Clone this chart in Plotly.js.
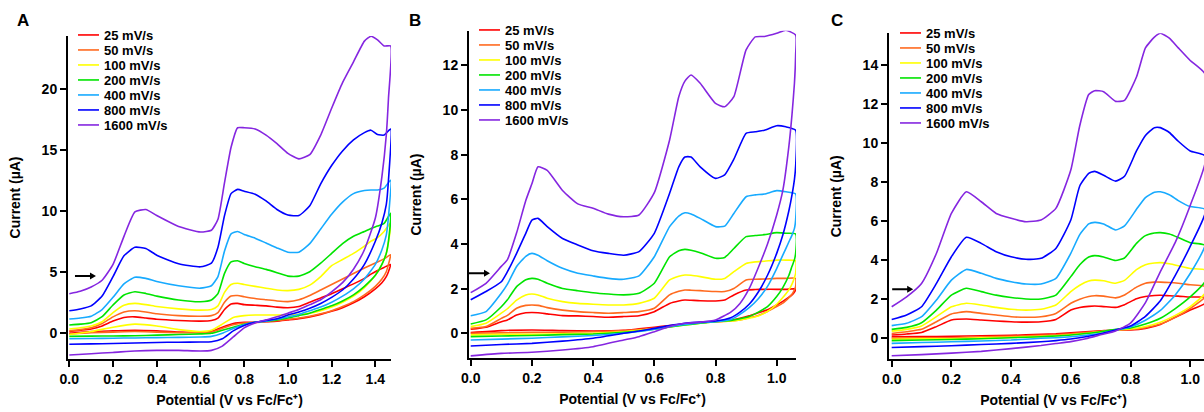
<!DOCTYPE html>
<html>
<head>
<meta charset="utf-8">
<script src="https://cdn.plot.ly/plotly-3.0.1.min.js"></script>
<style>html,body{margin:0;padding:0;background:#fff;overflow:hidden;width:1204px;height:412px;}</style>
</head>
<body>
<div id="chart" style="width:1218px;height:412px;"></div>
<script>
// ---------- series definitions ----------
const rates = ["25 mV/s", "50 mV/s", "100 mV/s", "200 mV/s", "400 mV/s", "800 mV/s", "1600 mV/s"];
const colors = ["#ff0000", "#ff6a1f", "#ffff00", "#00e400", "#17aaff", "#0000ff", "#8526e0"];

// ---------- Panel A ----------
const aUpX = [0,0.05,0.1,0.15,0.2,0.25,0.3,0.35,0.4,0.5,0.6,0.65,0.68,0.71,0.74,0.77,0.8,0.85,0.9,0.95,1.0,1.05,1.1,1.15,1.2,1.25,1.3,1.35,1.38,1.41,1.44,1.47];
const aUp = [
  [0.1,0.2,0.3,0.55,0.95,1.25,1.3,1.2,1.1,1.0,0.95,1.0,1.2,1.9,2.35,2.4,2.3,2.25,2.2,2.1,2.05,2.15,2.5,2.85,3.2,3.6,4.0,4.45,4.8,5.1,5.35,5.6],
  [0.15,0.25,0.4,0.75,1.3,1.7,1.8,1.7,1.55,1.4,1.35,1.4,1.65,2.5,3.0,3.05,2.95,2.8,2.7,2.6,2.55,2.7,3.05,3.5,3.95,4.4,4.85,5.3,5.55,5.8,6.05,6.4],
  [0.3,0.4,0.55,0.9,1.65,2.25,2.4,2.3,2.15,1.95,1.85,1.9,2.2,3.3,3.95,4.05,3.95,3.8,3.65,3.5,3.45,3.55,3.9,4.6,5.5,6.0,6.5,7.1,7.5,7.8,8.3,9.0],
  [0.63,0.7,0.82,1.31,2.27,3.09,3.36,3.22,3.0,2.68,2.54,2.68,3.2,4.86,5.8,5.9,5.68,5.41,5.19,4.92,4.64,4.64,5.0,5.7,6.5,7.3,7.9,8.3,8.55,8.74,8.96,9.78],
  [1.12,1.2,1.35,1.9,2.9,4.0,4.55,4.45,4.2,3.85,3.65,3.85,4.6,6.7,8.1,8.3,8.05,7.75,7.35,6.95,6.6,6.6,7.3,8.5,9.7,10.7,11.4,11.65,11.7,11.7,11.85,12.5],
  [1.8,1.95,2.2,3.0,4.6,6.3,7.0,6.9,6.35,5.65,5.4,5.7,7.0,9.6,11.4,11.75,11.6,11.35,10.8,10.1,9.65,9.6,10.4,12.2,13.7,14.9,15.8,16.4,16.6,16.25,16.2,16.7],
  [3.2,3.4,3.75,4.3,5.6,7.9,9.9,10.1,9.6,8.7,8.25,8.4,9.3,12.3,15.2,16.8,16.8,16.7,16.2,15.5,14.7,14.25,14.6,16.2,18.4,20.5,22.2,23.9,24.3,24.0,23.5,23.5]
];
const aDnX = [0,0.1,0.2,0.3,0.4,0.5,0.6,0.65,0.7,0.75,0.8,0.85,0.9,0.95,1.0,1.05,1.1,1.15,1.2,1.25,1.3,1.35,1.4,1.43,1.45,1.46];
const aDn = [
  [-0.05,0.1,0.15,0.2,0.15,0.05,0.05,0.1,0.45,0.75,0.85,0.85,0.9,0.95,1.05,1.15,1.3,1.5,1.75,2.05,2.45,2.95,3.6,4.1,4.6,5.0],
  [-0.1,0.0,0.05,0.1,0.05,0.0,0.0,0.05,0.35,0.65,0.8,0.85,0.9,1.0,1.1,1.2,1.35,1.55,1.8,2.15,2.55,3.1,3.8,4.4,5.0,5.6],
  [-0.15,0.1,0.45,0.7,0.55,0.25,0.1,0.2,0.7,1.25,1.4,1.45,1.45,1.45,1.45,1.5,1.6,1.8,2.1,2.5,3.0,3.7,4.7,5.6,6.5,7.4],
  [-0.3,-0.28,-0.27,-0.25,-0.2,-0.15,-0.1,-0.05,0.2,0.45,0.7,0.85,0.95,1.05,1.2,1.4,1.6,1.9,2.2,2.6,3.1,3.8,4.7,5.6,6.5,7.5],
  [-0.5,-0.48,-0.45,-0.43,-0.4,-0.38,-0.35,-0.3,-0.05,0.35,0.65,0.85,0.95,1.1,1.3,1.5,1.8,2.1,2.5,3.0,3.6,4.4,5.6,6.8,8.0,9.5],
  [-0.95,-0.92,-0.88,-0.85,-0.8,-0.78,-0.76,-0.74,-0.5,0.15,0.6,0.85,1.0,1.15,1.45,1.7,2.0,2.4,2.9,3.5,4.4,5.6,7.5,9.0,10.5,12.5],
  [-1.83,-1.72,-1.62,-1.5,-1.45,-1.45,-1.5,-1.45,-1.1,-0.35,0.4,0.8,1.05,1.3,1.6,1.9,2.3,2.7,3.35,4.1,5.2,6.8,9.4,12.8,16.2,19.2]
];

// ---------- Panel B ----------
const bUpX = [0,0.05,0.1,0.12,0.15,0.18,0.2,0.22,0.25,0.3,0.35,0.4,0.45,0.5,0.55,0.6,0.65,0.68,0.7,0.72,0.75,0.8,0.83,0.86,0.9,0.93,0.96,1.0,1.03,1.062];
const bUp = [
  [0.18,0.27,0.52,0.6,0.82,0.92,0.93,0.92,0.87,0.79,0.78,0.75,0.72,0.75,0.79,0.97,1.34,1.45,1.49,1.48,1.46,1.45,1.49,1.72,1.94,1.96,1.97,1.97,1.97,1.99],
  [0.22,0.3,0.67,0.8,1.12,1.25,1.27,1.25,1.15,1.04,0.97,0.93,0.9,0.93,0.97,1.12,1.72,1.88,1.94,1.93,1.91,1.87,1.87,2.01,2.39,2.42,2.43,2.46,2.46,2.46],
  [0.3,0.45,0.9,1.1,1.49,1.72,1.76,1.72,1.57,1.42,1.34,1.3,1.27,1.27,1.34,1.57,2.39,2.56,2.61,2.6,2.54,2.42,2.46,2.76,3.13,3.2,3.23,3.28,3.28,3.25],
  [0.42,0.6,1.19,1.5,2.09,2.4,2.46,2.42,2.24,2.01,1.91,1.82,1.76,1.72,1.79,2.24,3.43,3.7,3.76,3.72,3.61,3.36,3.4,3.8,4.33,4.38,4.42,4.51,4.48,4.45],
  [0.79,0.97,1.79,2.2,2.99,3.45,3.58,3.5,3.25,2.91,2.69,2.57,2.46,2.42,2.57,3.43,4.78,5.25,5.4,5.35,5.15,4.78,4.8,5.37,6.12,6.2,6.24,6.39,6.34,6.24],
  [1.5,1.87,2.31,2.76,3.58,4.48,5.07,5.15,4.78,4.25,3.96,3.7,3.58,3.5,3.66,4.48,6.27,7.46,7.9,7.9,7.46,6.94,7.1,7.8,8.96,9.03,9.1,9.3,9.25,9.1],
  [1.82,2.24,3.0,3.3,4.5,5.95,6.7,7.46,7.3,6.4,5.8,5.6,5.34,5.22,5.3,6.3,8.66,10.6,11.3,11.57,11.2,10.3,10.15,10.6,12.7,13.28,13.3,13.44,13.58,13.36]
];
const bDnX = [0,0.1,0.2,0.3,0.4,0.5,0.55,0.6,0.65,0.7,0.75,0.8,0.85,0.88,0.91,0.94,0.97,1.0,1.02,1.04,1.05,1.058,1.062];
const bDn = [
  [0.03,0.12,0.15,0.12,0.1,0.13,0.2,0.27,0.35,0.42,0.48,0.52,0.58,0.67,0.78,0.92,1.05,1.27,1.43,1.62,1.72,1.85,1.95],
  [0.0,0.02,0.04,0.05,0.07,0.12,0.17,0.22,0.3,0.4,0.47,0.52,0.55,0.6,0.7,0.8,0.98,1.2,1.35,1.6,1.75,1.95,2.1],
  [-0.07,-0.05,-0.04,-0.02,0.0,0.07,0.13,0.2,0.28,0.37,0.45,0.52,0.55,0.6,0.68,0.78,0.98,1.3,1.6,1.95,2.2,2.5,2.7],
  [-0.15,-0.12,-0.1,-0.06,-0.03,0.04,0.1,0.18,0.28,0.37,0.45,0.52,0.58,0.65,0.75,0.95,1.2,1.65,2.05,2.6,3.0,3.3,3.6],
  [-0.3,-0.26,-0.22,-0.16,-0.1,0.0,0.08,0.18,0.3,0.4,0.48,0.52,0.62,0.85,1.15,1.55,2.1,2.9,3.5,4.1,4.4,4.7,5.1],
  [-0.57,-0.5,-0.45,-0.35,-0.22,0.0,0.1,0.22,0.35,0.45,0.5,0.55,0.7,0.95,1.3,1.85,2.6,3.58,4.4,5.5,6.2,6.9,7.5],
  [-1.01,-0.9,-0.85,-0.75,-0.6,-0.3,-0.15,0.07,0.3,0.45,0.5,0.6,0.95,1.34,2.0,2.95,4.0,5.3,6.4,8.4,9.8,11.2,12.5]
];

// ---------- Panel C ----------
const cUpX = [0,0.05,0.1,0.15,0.2,0.25,0.3,0.35,0.4,0.45,0.5,0.55,0.6,0.63,0.66,0.68,0.71,0.75,0.78,0.82,0.85,0.88,0.9,0.93,0.96,1.0,1.05];
const cUp = [
  [0.14,0.19,0.27,0.57,0.91,0.96,0.91,0.86,0.82,0.8,0.82,0.94,1.42,1.55,1.61,1.63,1.6,1.56,1.7,2.0,2.12,2.17,2.18,2.16,2.14,2.09,2.07],
  [0.22,0.31,0.43,0.82,1.22,1.34,1.25,1.17,1.08,1.05,1.08,1.25,1.77,1.98,2.12,2.16,2.14,2.05,2.2,2.6,2.8,2.86,2.86,2.84,2.8,2.72,2.64],
  [0.34,0.43,0.6,1.08,1.59,1.77,1.68,1.56,1.46,1.42,1.46,1.68,2.37,2.7,2.92,2.96,2.93,2.8,2.95,3.5,3.75,3.84,3.86,3.8,3.7,3.56,3.48],
  [0.43,0.53,0.77,1.42,2.19,2.54,2.37,2.19,2.07,1.99,1.99,2.19,3.14,3.75,4.15,4.22,4.15,3.97,4.1,4.85,5.25,5.38,5.4,5.33,5.15,4.88,4.75],
  [0.62,0.74,1.08,1.94,2.96,3.51,3.31,3.05,2.88,2.76,2.76,3.05,4.34,5.3,5.85,5.93,5.85,5.54,5.75,6.6,7.2,7.48,7.5,7.35,7.05,6.74,6.6],
  [0.94,1.17,1.59,2.79,4.16,5.16,4.85,4.42,4.16,4.03,4.08,4.59,6.05,7.8,8.45,8.55,8.35,8.05,8.3,9.6,10.4,10.8,10.8,10.55,10.1,9.6,9.35],
  [1.59,2.1,2.79,4.34,6.39,7.5,6.99,6.39,6.14,5.96,6.05,6.65,8.62,10.9,12.5,12.7,12.65,12.15,12.2,13.4,14.9,15.45,15.65,15.4,14.9,14.25,13.55]
];
const cDnX = [0,0.1,0.2,0.3,0.4,0.5,0.55,0.6,0.65,0.7,0.75,0.8,0.85,0.9,0.95,1.0,1.05];
const cDn = [
  [0.05,0.06,0.07,0.1,0.12,0.17,0.2,0.25,0.3,0.35,0.4,0.4,0.48,0.68,1.05,1.42,1.77],
  [-0.02,-0.01,0.0,0.04,0.07,0.12,0.15,0.2,0.27,0.33,0.4,0.42,0.52,0.7,1.05,1.5,2.1],
  [-0.08,-0.06,-0.05,0.0,0.02,0.07,0.1,0.15,0.22,0.3,0.4,0.45,0.58,0.8,1.15,1.6,2.3],
  [-0.15,-0.12,-0.09,-0.05,0.0,0.05,0.09,0.14,0.22,0.31,0.43,0.5,0.7,1.0,1.5,2.1,2.9],
  [-0.29,-0.25,-0.21,-0.17,-0.12,-0.03,0.0,0.05,0.13,0.22,0.38,0.55,0.9,1.4,2.2,3.3,4.75],
  [-0.5,-0.46,-0.41,-0.35,-0.29,-0.21,-0.15,-0.07,0.05,0.2,0.4,0.6,1.1,1.9,3.2,4.7,6.4],
  [-0.93,-0.87,-0.79,-0.7,-0.56,-0.4,-0.3,-0.2,-0.05,0.15,0.35,0.75,1.8,3.4,4.9,6.8,9.0]
];

// ---------- build traces ----------
const W = 1218, H = 412;   // panel C continues past the visible 1204px edge, as in the original
const FONT = "Liberation Sans, Arial, Helvetica, sans-serif";
const traces = [];
function addPanel(upX, up, dnX, dn, xa, ya, leg) {
  for (let i = 0; i < rates.length; i++) {
    const xs = dnX.concat(upX.slice().reverse());
    const ys = dn[i].concat(up[i].slice().reverse());
    traces.push({
      type: "scatter", mode: "lines", x: xs, y: ys,
      xaxis: xa, yaxis: ya, name: rates[i], legend: leg,
      line: {color: colors[i], width: 1.6, shape: "spline", smoothing: 0.5},
      hoverinfo: "skip"
    });
  }
}
addPanel(aUpX, aUp, aDnX, aDn, "x", "y", "legend");
addPanel(bUpX, bUp, bDnX, bDn, "x2", "y2", "legend2");
addPanel(cUpX, cUp, cDnX, cDn, "x3", "y3", "legend3");

const tickFont = {family: FONT, size: 14, color: "#000", weight: "bold"};
const titleFont = {family: FONT, size: 14, color: "#000", weight: "bold"};
function xAx(dom, rng, anchor) {
  return {domain: dom, range: rng, anchor: anchor, dtick: 0.2, tick0: 0, tickformat: ".1f",
    showline: true, linewidth: 2, linecolor: "#000", ticks: "outside", ticklen: 6, tickwidth: 2,
    tickcolor: "#000", showgrid: false, zeroline: false, tickfont: tickFont,
    title: {text: "Potential (V vs Fc/Fc⁺)", font: titleFont, standoff: 9}};
}
function yAx(dom, rng, dt, anchor) {
  return {domain: dom, range: rng, anchor: anchor, dtick: dt, tick0: 0,
    showline: true, linewidth: 2, linecolor: "#000", ticks: "outside", ticklen: 6, tickwidth: 2,
    tickcolor: "#000", showgrid: false, zeroline: false, tickfont: tickFont,
    title: {text: "Current (µA)", font: titleFont, standoff: 18}};
}
function legendAt(px, py) {
  return {x: px / W, xanchor: "left", y: 1 - py / H, yanchor: "top", bgcolor: "rgba(0,0,0,0)",
    font: {family: FONT, size: 13, color: "#000", weight: "bold"}, tracegroupgap: 0};
}
// scan-direction arrow: tip anchored at a data point, drawn in pixels
function arrowShape(xr, yr, x, y) {
  return {type: "path", xref: xr, yref: yr, xsizemode: "pixel", ysizemode: "pixel",
    xanchor: x, yanchor: y, path: "M-21,-1 L-6,-1 L-6,-3.5 L0,0 L-6,3.5 L-6,1 L-21,1 Z",
    fillcolor: "#000", line: {width: 0}};
}
function letter(t, px, py) {
  return {xref: "paper", yref: "paper", x: px / W, y: 1 - py / H, text: t,
    showarrow: false, font: {family: FONT, size: 17, color: "#000", weight: "bold"}, xanchor: "center", yanchor: "middle"};
}

const layout = {
  width: W, height: H, margin: {l: 0, r: 0, t: 0, b: 0},
  paper_bgcolor: "#fff", plot_bgcolor: "rgba(0,0,0,0)",
  font: {family: FONT, size: 14, color: "#000"},
  showlegend: true,
  xaxis: xAx([68 / W, 391 / W], [-0.006, 1.4716], "y"),
  yaxis: yAx([1 - 359 / H, 1 - 36 / H], [-2.156, 24.32], 5, "x"),
  xaxis2: xAx([469 / W, 796 / W], [-0.0056, 1.0631], "y2"),
  yaxis2: yAx([1 - 358.3 / H, 1 - 30.7 / H], [-1.12, 13.557], 2, "x2"),
  xaxis3: xAx([889 / W, 1], [-0.009, 1.0931], "y3"),
  yaxis3: yAx([1 - 359.3 / H, 1 - 33.3 / H], [-1.11, 15.65], 2, "x3"),
  legend: legendAt(64, 20),
  legend2: legendAt(465, 15),
  legend3: legendAt(886, 18),
  annotations: [letter("A", 23, 21), letter("B", 415, 21), letter("C", 837, 21)],
  shapes: [
    arrowShape("x", "y", 0.122, 4.65),
    arrowShape("x2", "y2", 0.063, 2.69),
    arrowShape("x3", "y3", 0.072, 2.49)
  ]
};

Plotly.newPlot("chart", traces, layout, {staticPlot: true, displayModeBar: false}).then(function (gd) {
  // tighten the legend rows (15 px pitch) and shorten the sample lines, as in the original figure
  ["legend", "legend2", "legend3"].forEach(function (id) {
    const g = gd.querySelector("g." + id);
    if (!g) return;
    const items = g.querySelectorAll("g.traces");
    let y0 = null;
    items.forEach(function (it, i) {
      const m = /translate\(\s*([-\d.e]+)[\s,]+([-\d.e]+)\s*\)/.exec(it.getAttribute("transform") || "");
      if (!m) return;
      if (y0 === null) y0 = parseFloat(m[2]);
      it.setAttribute("transform", "translate(" + m[1] + "," + (y0 + i * 15) + ")");
      it.querySelectorAll(".legendlines path").forEach(function (p) { p.setAttribute("d", "M14,0h21"); });
    });
  });
});
</script>
</body>
</html>
